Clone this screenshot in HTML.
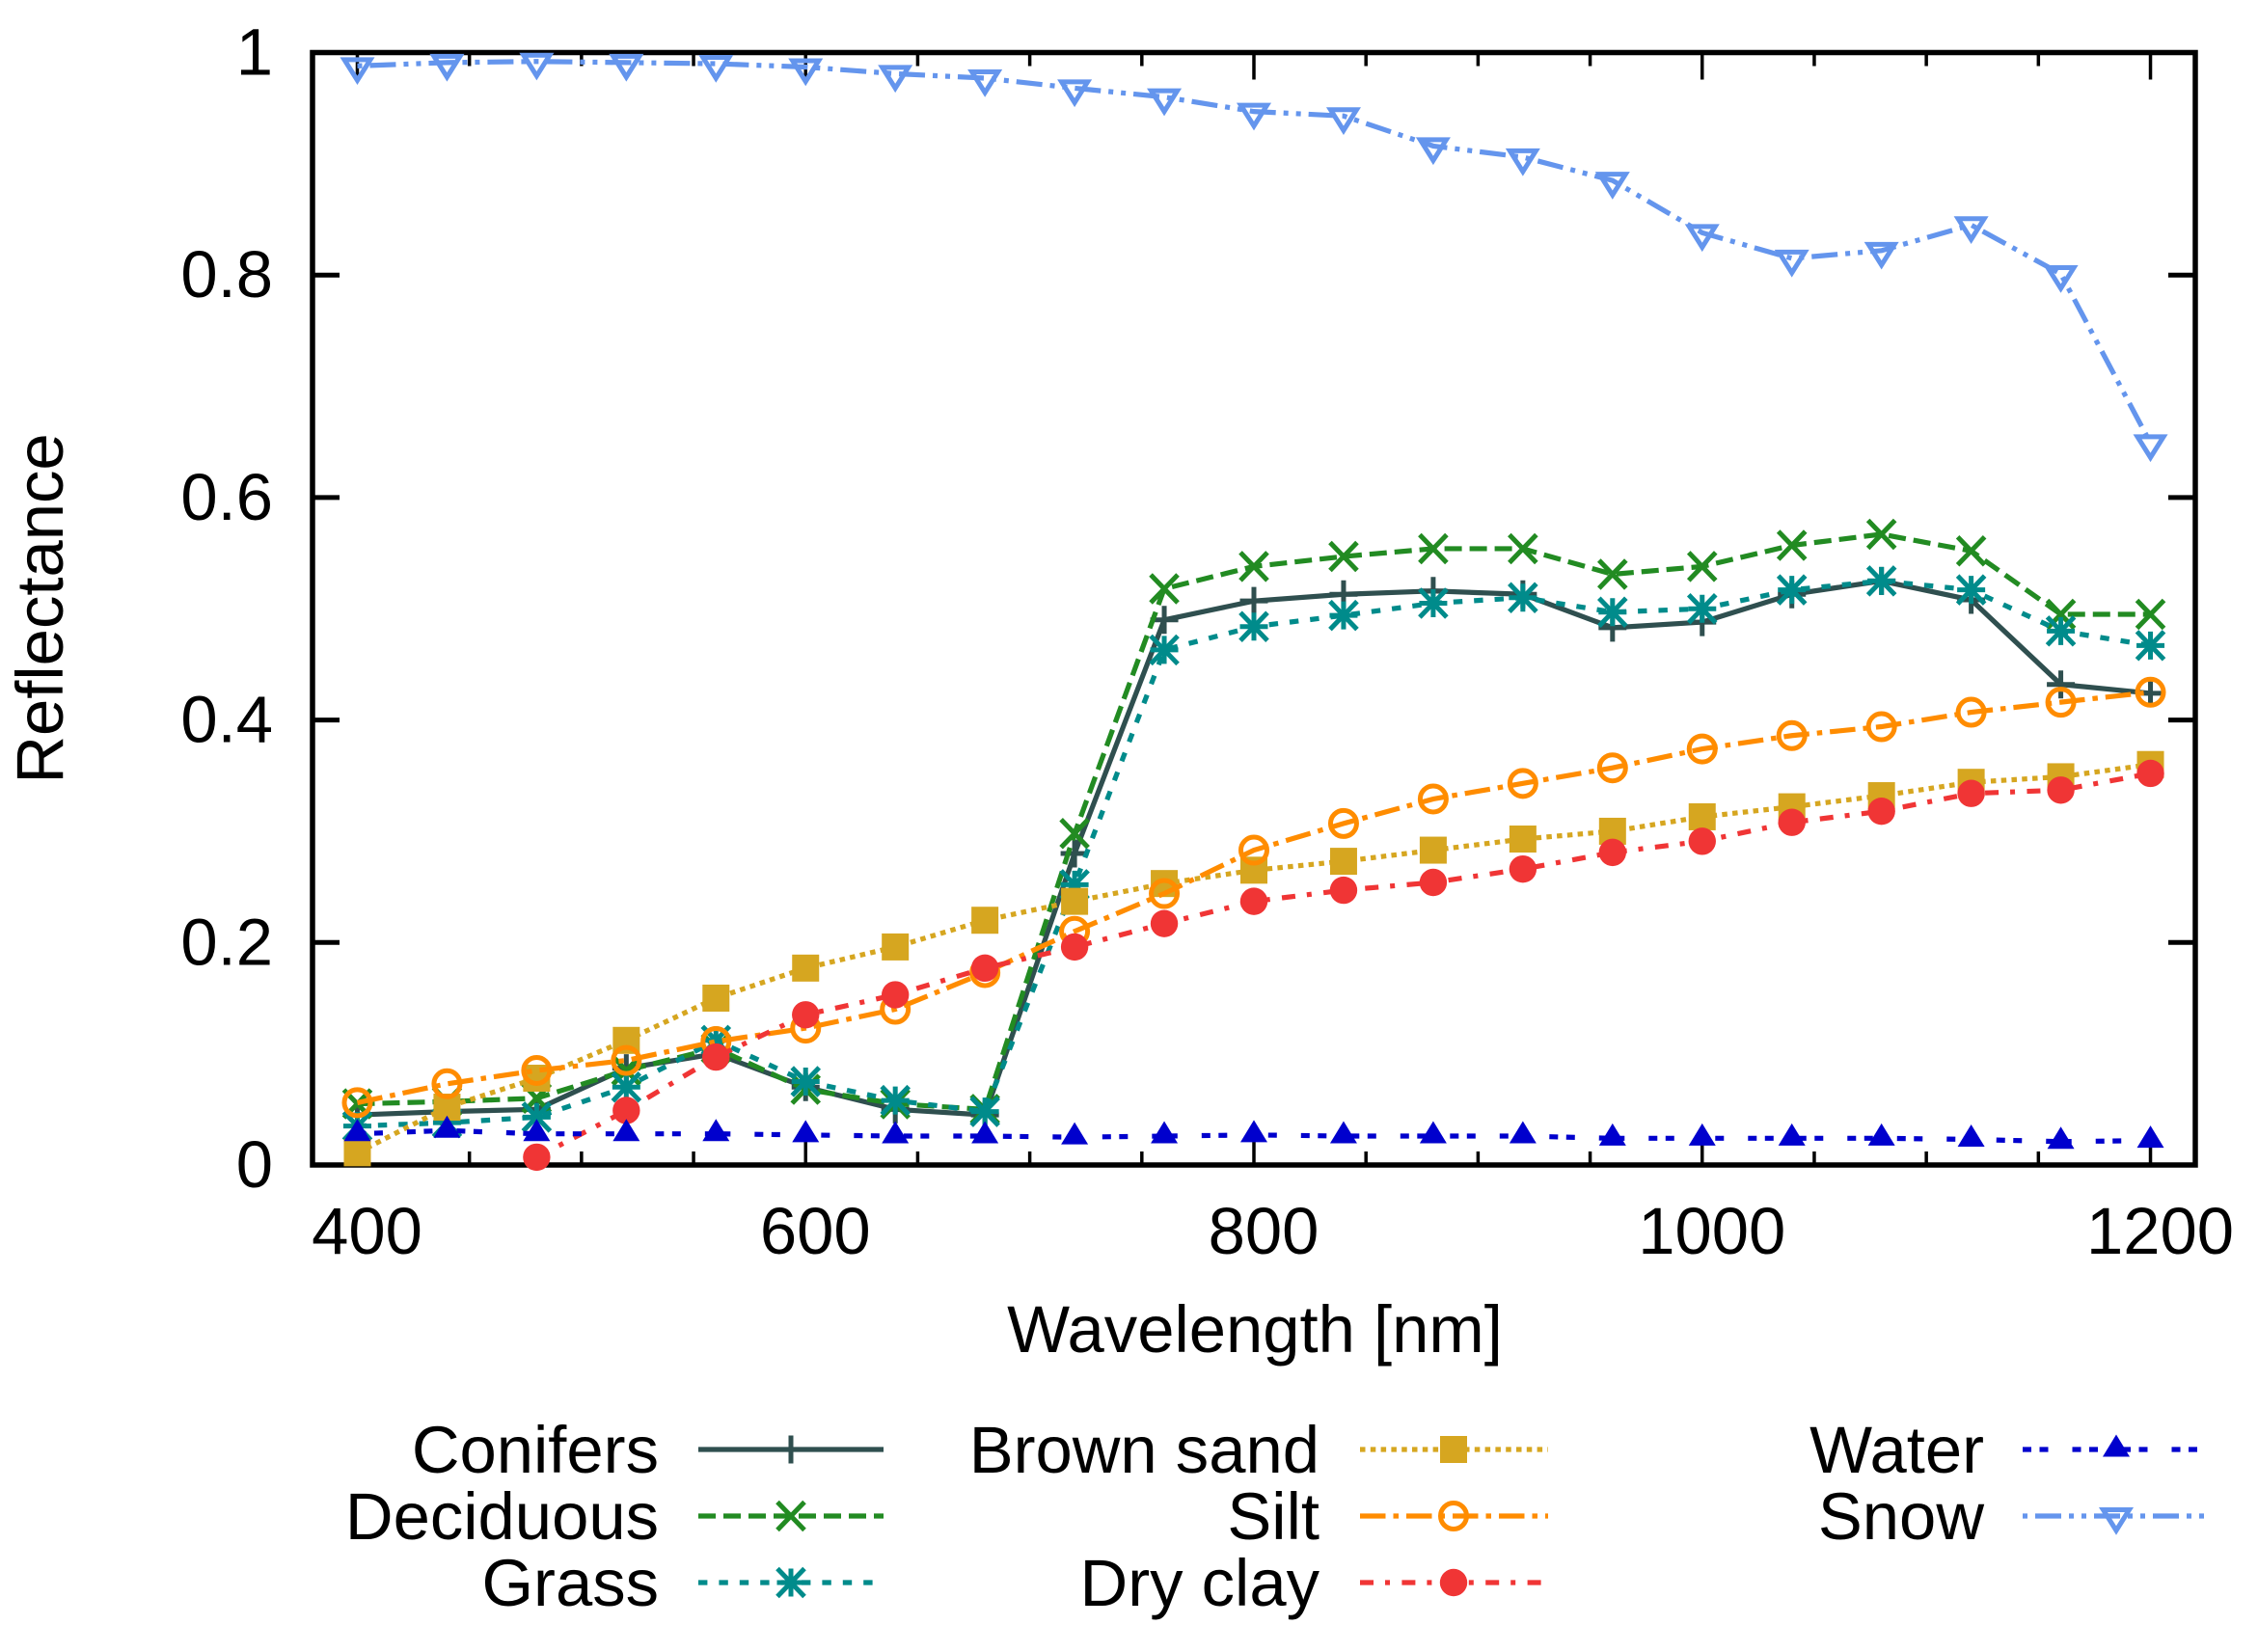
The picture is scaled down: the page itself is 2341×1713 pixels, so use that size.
<!DOCTYPE html>
<html lang="en">
<head>
<meta charset="utf-8">
<title>Reflectance spectra</title>
<style>
html,body{margin:0;padding:0;background:#fff;}
svg{display:block;position:absolute;left:0;top:0;}
text{font-family:"Liberation Sans",sans-serif;font-size:68.8px;fill:#000;}
</style>
</head>
<body>
<svg id="chart" xmlns="http://www.w3.org/2000/svg" width="2341" height="1713" viewBox="0 0 2341 1713"></svg>
<script>
const wavelengths = [400,440,480,520,560,600,640,680,720,760,800,840,880,920,960,1000,1040,1080,1120,1160,1200];
const conifers = [.045,.048,.05,.087,.1,.07,.05,.045,.28,.49,.507,.513,.516,.513,.483,.488,.513,.525,.508,.432,.424];
const deciduous = [.055,.057,.06,.085,.105,.068,.055,.05,.298,.518,.538,.547,.554,.554,.531,.538,.557,.567,.552,.495,.495];
const grass = [.035,.038,.043,.07,.112,.075,.058,.048,.252,.463,.484,.494,.505,.51,.497,.5,.517,.525,.517,.48,.467];
const brownSand = [.011,.052,.078,.112,.15,.177,.196,.22,.237,.253,.265,.273,.283,.293,.3,.313,.322,.332,.344,.349,.36];
const silt = [.056,.073,.085,.094,.111,.123,.14,.173,.21,.244,.283,.307,.329,.343,.357,.374,.386,.394,.407,.416,.425];
const dryClay = [null,null,.007,.049,.097,.135,.153,.177,.196,.217,.237,.247,.254,.266,.281,.291,.308,.318,.334,.337,.352];
const water = [.028,.031,.028,.028,.028,.027,.026,.026,.025,.026,.027,.026,.026,.026,.024,.024,.024,.024,.023,.021,.022];
const snow = [.988,.991,.992,.991,.99,.987,.981,.977,.968,.96,.947,.943,.916,.906,.885,.838,.815,.822,.845,.801,.649];
const xTickLabels = ["400","600","800","1000","1200"];
const xMinorTicks = [450,500,550,650,700,750,850,900,950,1050,1100,1150];
const yTickLabels = ["0","0.2","0.4","0.6","0.8","1"];
const xAxisTitle = "Wavelength [nm]";
const yAxisTitle = "Reflectance";

const seriesList = [
  {label:"Conifers",slug:"conifers",values:conifers,color:"#2f4f4f",dash:"none",marker:"plus"},
  {label:"Deciduous",slug:"deciduous",values:deciduous,color:"#228b22",dash:"18 8",marker:"cross"},
  {label:"Grass",slug:"grass",values:grass,color:"#008b8b",dash:"9.4 12",marker:"star"},
  {label:"Brown sand",slug:"brown-sand",values:brownSand,color:"#d6a620",dash:"5.5 5.3",marker:"square"},
  {label:"Silt",slug:"silt",values:silt,color:"#ff8c00",dash:"26.5 8 5.5 8",marker:"circle"},
  {label:"Dry clay",slug:"dry-clay",values:dryClay,color:"#f03535",dash:"14 12 5 12.4",marker:"disc"},
  {label:"Water",slug:"water",values:water,color:"#0000cd",dash:"9 8.5 9 25",marker:"triUp"},
  {label:"Snow",slug:"snow",values:snow,color:"#6495ed",dash:"5 8 27 8 5 8",marker:"triDown"}
];

const NS = "http://www.w3.org/2000/svg";
const svg = document.getElementById("chart");
const frame = {left:324,right:2276,top:54.5,bottom:1208};
const xDomain = [380,1220];
const yDomain = [0,1];
function xScale(w){return frame.left+(w-xDomain[0])*(frame.right-frame.left)/(xDomain[1]-xDomain[0]);}
function yScale(v){return frame.bottom-(v-yDomain[0])*(frame.bottom-frame.top)/(yDomain[1]-yDomain[0]);}
function make(tag,attrs,parent,text){
  const n=document.createElementNS(NS,tag);
  for(const k in attrs){n.setAttribute(k,attrs[k]);}
  if(text!==undefined){n.textContent=text;}
  (parent||svg).appendChild(n);
  return n;
}
function drawMarker(kind,cx,cy,color,parent){
  const g=make("g",{fill:"none",stroke:color,"stroke-width":5},parent);
  if(kind==="plus"||kind==="star"){
    make("path",{d:"M"+(cx-14.5)+" "+cy+"H"+(cx+14.5)+"M"+cx+" "+(cy-14.5)+"V"+(cy+14.5)},g);
  }
  if(kind==="cross"||kind==="star"){
    make("path",{d:"M"+(cx-14)+" "+(cy-14.5)+"L"+(cx+14)+" "+(cy+14.5)+"M"+(cx-14)+" "+(cy+14.5)+"L"+(cx+14)+" "+(cy-14.5)},g);
  }
  if(kind==="square"){
    make("rect",{x:cx-14,y:cy-14,width:28,height:28,fill:color,stroke:"none"},g);
  }
  if(kind==="circle"){
    make("circle",{cx:cx,cy:cy,r:13.5,"stroke-width":5},g);
  }
  if(kind==="disc"){
    make("circle",{cx:cx,cy:cy,r:14.2,fill:color,stroke:"none"},g);
  }
  if(kind==="triUp"){
    make("polygon",{points:(cx-14)+","+(cy+7.5)+" "+(cx+14)+","+(cy+7.5)+" "+cx+","+(cy-15.5),fill:color,stroke:"none"},g);
  }
  if(kind==="triDown"){
    make("polygon",{points:(cx-13.5)+","+(cy-6.5)+" "+(cx+13.5)+","+(cy-6.5)+" "+cx+","+(cy+15),"stroke-width":5},g);
  }
  return g;
}

const yAxis=make("g",{});


yTickLabels.forEach(function(lab){
  const v=parseFloat(lab);
  const y=yScale(v);
  if(v>0&&v<1){
    const l=make("line",{x1:frame.left,x2:frame.left+28,y1:y,y2:y,stroke:"#000","stroke-width":5},yAxis);
    
    
    const r=make("line",{x1:frame.right-28,x2:frame.right,y1:y,y2:y,stroke:"#000","stroke-width":5},yAxis);
    
    
  }
  const t=make("text",{x:283,y:y+23,"text-anchor":"end"},yAxis,lab);
  
  
});

const xAxis=make("g",{});


xMinorTicks.forEach(function(w){
  const x=xScale(w);
  const b=make("line",{x1:x,x2:x,y1:frame.bottom-14,y2:frame.bottom,stroke:"#000","stroke-width":3.5},xAxis);
  
  
  const u=make("line",{x1:x,x2:x,y1:frame.top,y2:frame.top+14,stroke:"#000","stroke-width":3.5},xAxis);
  
  
});
xTickLabels.forEach(function(lab){
  const w=parseFloat(lab);
  const x=xScale(w);
  const b=make("line",{x1:x,x2:x,y1:frame.bottom-28,y2:frame.bottom,stroke:"#000","stroke-width":3.5},xAxis);
  
  
  const u=make("line",{x1:x,x2:x,y1:frame.top,y2:frame.top+28,stroke:"#000","stroke-width":3.5},xAxis);
  
  
  const t=make("text",{x:x+10,y:1300,"text-anchor":"middle"},xAxis,lab);
  
  
});

const border=make("rect",{x:frame.left,y:frame.top,width:frame.right-frame.left,height:frame.bottom-frame.top,fill:"none",stroke:"#000","stroke-width":5.5});



const xTitle=make("text",{x:1301,y:1402,"text-anchor":"middle"},svg,xAxisTitle);


const yTitle=make("text",{x:0,y:0,"text-anchor":"middle",transform:"translate(65 631) rotate(-90)"},svg,yAxisTitle);



seriesList.forEach(function(s){
  const g=make("g",{});
  
  
  const pts=[];
  s.values.forEach(function(v,i){
    if(v!==null){pts.push(xScale(wavelengths[i])+","+yScale(v));}
  });
  const line=make("polyline",{points:pts.join(" "),fill:"none",stroke:s.color,"stroke-width":5.2,"stroke-dasharray":s.dash,"stroke-linejoin":"miter"},g);
  
  
  s.values.forEach(function(v,i){
    if(v===null){return;}
    const m=drawMarker(s.marker,xScale(wavelengths[i]),yScale(v),s.color,g);
    
    
  });
});

const legendColumns=[
  {textEnd:683,lineStart:724,lineEnd:916,markerX:820},
  {textEnd:1368,lineStart:1410,lineEnd:1605,markerX:1507},
  {textEnd:2057,lineStart:2097,lineEnd:2285,markerX:2194}
];
const legendRowY=[1503,1572,1641];
const legend=make("g",{});


seriesList.forEach(function(s,i){
  const col=legendColumns[Math.floor(i/3)];
  const y=legendRowY[i%3];
  const g=make("g",{},legend);
  
  
  const t=make("text",{x:col.textEnd,y:y+24,"text-anchor":"end"},g,s.label);
  
  
  const l=make("line",{x1:col.lineStart,x2:col.lineEnd,y1:y,y2:y,stroke:s.color,"stroke-width":5.2,"stroke-dasharray":s.dash},g);
  
  
  const m=drawMarker(s.marker,col.markerX,y,s.color,g);
  
  
});
</script>
</body>
</html>
